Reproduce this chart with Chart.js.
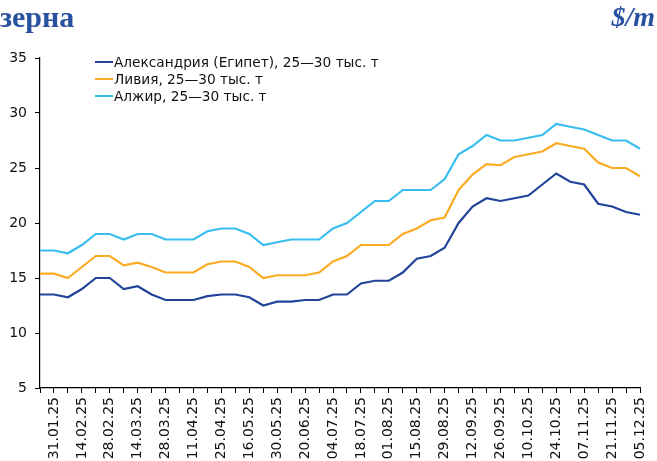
<!DOCTYPE html>
<html lang="ru">
<head>
<meta charset="utf-8">
<title>Фрахт зерна</title>
<script src="https://cdn.jsdelivr.net/npm/chart.js@4.4.1/dist/chart.umd.min.js"></script>
<style>
  html, body { margin: 0; padding: 0; background: #fff; overflow: hidden; }
  #wrap { position: relative; width: 657px; height: 461px; overflow: hidden; }
  #chart { position: absolute; left: 0; top: 0; }
  .title { position: absolute; font-family: "Liberation Serif", serif; font-weight: bold;
           color: #2a51a0; line-height: 30px; white-space: nowrap; }
  #t-left { left: 0; top: 2px; font-size: 30px; }
  #t-right { right: 2px; top: 2px; font-size: 28px; font-style: italic; }
  #legend { position: absolute; left: 95px; top: 54px; font-family: "DejaVu Sans", sans-serif;
            font-size: 13.7px; color: #111; }
  .item { display: flex; align-items: center; height: 16.7px; white-space: nowrap; }
  .swatch { width: 18px; height: 2px; margin-right: 1px; }
</style>
</head>
<body>
<div id="wrap">
  <canvas id="chart" width="657" height="461"></canvas>
  <div class="title" id="t-left">зерна</div>
  <div class="title" id="t-right">$/m</div>
  <div id="legend"></div>
</div>
<script>
// Weekly dates (every second one is labelled on the axis)
const dates = [
  "24.01.25", "31.01.25", "07.02.25", "14.02.25", "21.02.25", "28.02.25",
  "07.03.25", "14.03.25", "21.03.25", "28.03.25", "04.04.25", "11.04.25",
  "18.04.25", "25.04.25", "09.05.25", "16.05.25", "23.05.25", "30.05.25",
  "13.06.25", "20.06.25", "27.06.25", "04.07.25", "11.07.25", "18.07.25",
  "25.07.25", "01.08.25", "08.08.25", "15.08.25", "22.08.25", "29.08.25",
  "05.09.25", "12.09.25", "19.09.25", "26.09.25", "03.10.25", "10.10.25",
  "17.10.25", "24.10.25", "31.10.25", "07.11.25", "14.11.25", "21.11.25",
  "28.11.25", "05.12.25"
];

const seriesNames = [
  "Александрия (Египет), 25—30 тыс. т",
  "Ливия, 25—30 тыс. т",
  "Алжир, 25—30 тыс. т"
];

// $/t
const alexandria = [
  13.5, 13.5, 13.25, 14, 15, 15, 14, 14.25, 13.5, 13, 13, 13,
  13.35, 13.5, 13.5, 13.25, 12.5, 12.85, 12.85, 13, 13, 13.5, 13.5, 14.5,
  14.75, 14.75, 15.5, 16.75, 17, 17.75, 20, 21.5, 22.25, 22, 22.25, 22.5,
  23.5, 24.5, 23.75, 23.5, 21.75, 21.5, 21, 20.75
];
const libya = [
  15.4, 15.4, 15, 16, 17, 17, 16.15, 16.4, 16, 15.5, 15.5, 15.5,
  16.25, 16.5, 16.5, 16, 15, 15.25, 15.25, 15.25, 15.5, 16.5, 17, 18,
  18, 18, 19, 19.5, 20.25, 20.5, 23, 24.4, 25.35, 25.25, 26, 26.25,
  26.5, 27.25, 27, 26.75, 25.5, 25, 25, 24.25
];
const algeria = [
  17.5, 17.5, 17.25, 18, 19, 19, 18.5, 19, 19, 18.5, 18.5, 18.5,
  19.25, 19.5, 19.5, 19, 18, 18.25, 18.5, 18.5, 18.5, 19.5, 20, 21,
  22, 22, 23, 23, 23, 24, 26.25, 27, 28, 27.5, 27.5, 27.75,
  28, 29, 28.75, 28.5, 28, 27.5, 27.5, 26.75
];

const yTicks = [5, 10, 15, 20, 25, 30, 35];

const colors = ["#21449a", "#fbab22", "#38bdee"];
const values = [alexandria, libya, algeria];

Chart.defaults.font.family = "'DejaVu Sans', sans-serif";
Chart.defaults.font.size = 14;
Chart.defaults.color = "#111";

const datasets = values.map((v, i) => ({
  label: seriesNames[i],
  data: v,
  borderColor: colors[i],
  backgroundColor: colors[i],
  borderWidth: 2.2,
  pointRadius: 0,
  tension: 0,
  fill: false
}));

new Chart(document.getElementById("chart"), {
  type: "line",
  data: { labels: dates, datasets },
  options: {
    responsive: false,
    devicePixelRatio: 1,
    animation: false,
    layout: { padding: { top: 58, right: 17, left: 0, bottom: 0 } },
    plugins: { legend: { display: false }, tooltip: { enabled: false } },
    scales: {
      x: {
        type: "category",
        offset: false,
        border: { color: "#000", width: 1.2 },
        grid: { display: true, drawOnChartArea: false, drawTicks: true,
                tickLength: 5, color: "#000", lineWidth: 1 },
        ticks: {
          autoSkip: false, minRotation: 90, maxRotation: 90, padding: 4,
          callback: (val, idx) => (idx % 2 === 1 ? dates[idx] : "")
        },
        afterFit: (s) => { s.height = 73; s.paddingLeft = 0; s.paddingRight = 0; }
      },
      y: {
        min: 5, max: 35,
        afterBuildTicks: (s) => { s.ticks = yTicks.map(v => ({ value: v })); },
        border: { color: "#000", width: 1.2 },
        grid: { display: true, drawOnChartArea: false, drawTicks: true,
                tickLength: 5, color: "#000", lineWidth: 1 },
        ticks: { padding: 8 },
        afterFit: (s) => { s.width = 40; }
      }
    }
  }
});

// Legend as a vertical list of short line samples
const legend = document.getElementById("legend");
seriesNames.forEach((name, i) => {
  const row = document.createElement("div");
  row.className = "item";
  const sw = document.createElement("span");
  sw.className = "swatch";
  sw.style.background = colors[i];
  const tx = document.createElement("span");
  tx.textContent = name;
  row.appendChild(sw);
  row.appendChild(tx);
  legend.appendChild(row);
});
</script>
</body>
</html>
